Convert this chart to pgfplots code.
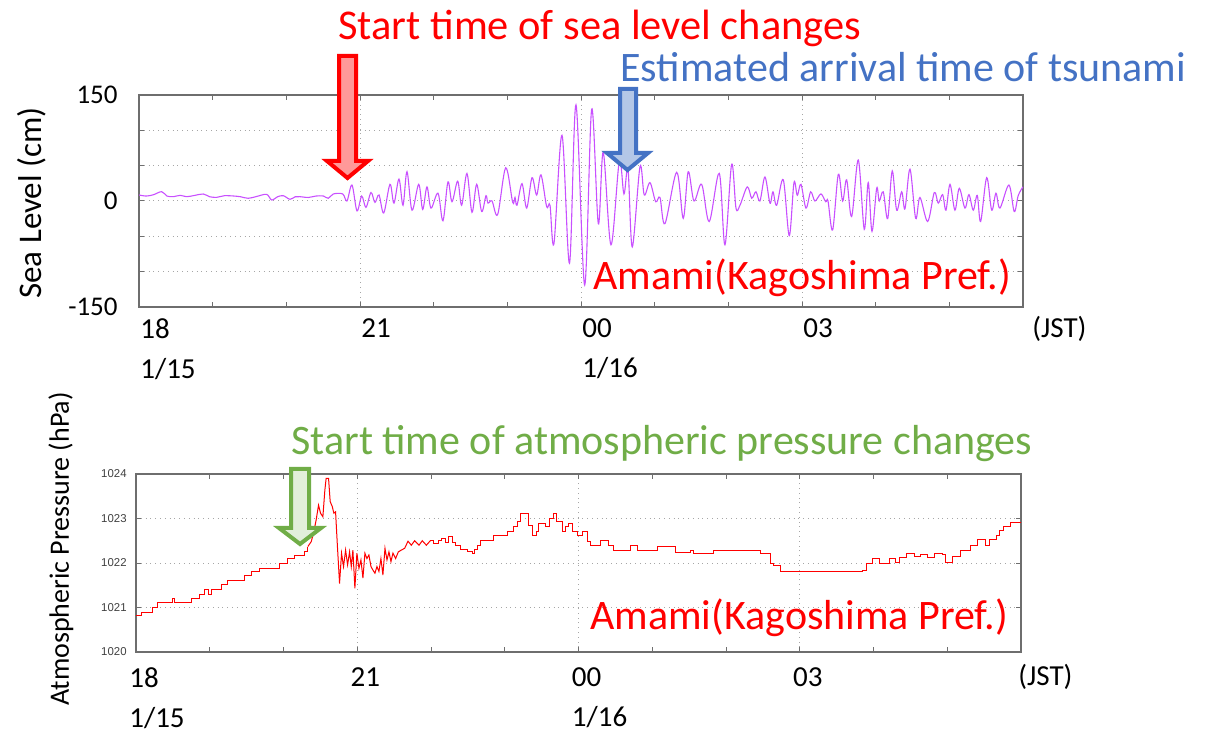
\documentclass[border=0pt]{standalone}
\usepackage{fontspec}
\setmainfont{Carlito}
\newfontfamily\tickfont{Liberation Sans}
\usepackage{pgfplots}
\pgfplotsset{compat=1.18}

\definecolor{sealine}{RGB}{200,80,255}
\definecolor{jred}{RGB}{255,0,0}
\definecolor{jredfill}{RGB}{255,153,153}
\definecolor{jblue}{RGB}{68,114,196}
\definecolor{jbluefill}{RGB}{180,199,231}
\definecolor{jgreen}{RGB}{112,173,71}
\definecolor{jgreenfill}{RGB}{226,239,218}
\definecolor{axgray}{RGB}{110,110,110}

% sea level at Amami, hours after 1/15 00:00 JST (cm)
\pgfplotstableread{
h y
18.000 8.5
18.100 7
18.200 9
18.308 13.2
18.380 7
18.466 6.1
18.560 8
18.647 6.1
18.760 8
18.873 9.9
18.960 6
19.055 5.2
19.160 7.5
19.280 7.1
19.380 6
19.484 3.8
19.600 6.5
19.733 9.4
19.801 1.4
19.880 6
19.959 7.5
20.050 2.4
20.120 6
20.185 6.1
20.300 5
20.400 7
20.502 7.1
20.570 3.8
20.637 9.9
20.765 10
20.823 0
20.891 22.6
20.959 -14
21.023 7
21.081 -9
21.149 12
21.203 -2
21.258 8.5
21.322 -17
21.407 23.6
21.461 -3
21.529 31
21.584 -6
21.638 41.5
21.706 -13
21.797 23.6
21.851 -12
21.909 20
21.964 -10
22.059 11
22.126 -28
22.194 27
22.249 -1
22.326 28
22.380 -6
22.452 39
22.520 -16
22.584 23.6
22.652 -15
22.710 7.5
22.737 -3
22.792 0
22.869 -19
22.978 47
23.073 -2
23.104 5
23.131 -6
23.199 24.5
23.263 -10
23.335 33
23.398 8.5
23.457 37
23.534 -8
23.579 -6
23.633 -60
23.742 93
23.844 -88
23.932 136
24.050 -119
24.145 130
24.235 -32
24.302 69
24.407 -62
24.520 56
24.583 10
24.638 45
24.696 -65
24.801 48.6
24.859 8.5
24.936 26
25.014 -1
25.072 5
25.140 -32
25.299 40.6
25.388 -24.5
25.456 41.5
25.534 0
25.638 23.6
25.741 -29
25.877 39
25.954 -62
26.045 52
26.104 -10
26.158 -6
26.257 20
26.317 4
26.375 13
26.429 0
26.497 34
26.565 -3
26.606 13
26.656 -6
26.746 30
26.827 -49
26.891 26
26.936 8
26.986 23.6
27.054 -10
27.118 13
27.176 0
27.257 10
27.321 -1
27.353 0
27.416 -41
27.493 37.7
27.552 0
27.606 30
27.674 -22
27.764 58
27.845 -40
27.899 26
27.950 -43
28.014 18
28.049 0
28.103 13
28.163 -25
28.225 42.5
28.285 -13
28.353 13
28.398 -11
28.466 45
28.543 -24.5
28.601 5
28.706 -29
28.796 12
28.850 -3
28.909 9
28.954 -13
29.009 23.6
29.076 -13
29.135 18
29.212 -10
29.266 9
29.325 -13
29.379 8
29.425 -29
29.507 33
29.575 -13
29.633 11
29.687 -10
29.809 22.6
29.881 -15
29.936 8
30.000 20
}\sealevel

% atmospheric pressure at Amami (hPa), slow part before the pressure wave
\pgfplotstableread{
h p
18.000 1020.82
18.081 1020.88
18.226 1021.00
18.294 1021.12
18.489 1021.21
18.516 1021.12
18.747 1021.21
18.860 1021.30
18.928 1021.41
18.986 1021.30
19.018 1021.41
19.154 1021.51
19.244 1021.60
19.471 1021.71
19.561 1021.81
19.674 1021.88
19.946 1021.99
20.059 1022.10
20.149 1022.16
20.285 1022.25
20.330 1022.37
}\pressa

% pressure wave and disturbed period
\pgfplotstableread{
h p
20.330 1022.37
20.376 1022.48
20.407 1022.67
20.443 1022.97
20.475 1023.30
20.502 1023.12
20.534 1023.04
20.561 1023.64
20.578 1023.90
20.611 1023.90
20.633 1023.38
20.661 1023.27
20.683 1023.12
20.706 1023.15
20.729 1022.44
20.760 1021.54
20.787 1022.22
20.814 1021.92
20.842 1022.29
20.869 1021.96
20.896 1022.25
20.919 1021.92
20.941 1022.29
20.968 1021.43
20.995 1022.22
21.023 1021.88
21.050 1022.07
21.077 1021.66
21.104 1022.22
21.131 1022.10
21.158 1022.18
21.186 1021.92
21.213 1021.84
21.240 1021.77
21.267 1021.92
21.294 1021.81
21.321 1022.10
21.348 1021.73
21.376 1022.33
21.403 1022.07
21.430 1022.25
21.457 1022.03
21.484 1022.22
21.520 1022.10
21.557 1022.25
21.597 1022.29
21.643 1022.33
21.688 1022.49
21.733 1022.40
21.778 1022.50
21.837 1022.40
21.882 1022.50
21.937 1022.40
21.991 1022.50
}\pressb

% afterwards
\pgfplotstableread{
h p
21.991 1022.50
22.036 1022.44
22.104 1022.50
22.149 1022.55
22.195 1022.46
22.240 1022.59
22.285 1022.46
22.330 1022.40
22.398 1022.31
22.489 1022.25
22.557 1022.22
22.588 1022.31
22.625 1022.40
22.670 1022.50
22.851 1022.61
23.032 1022.70
23.122 1022.82
23.177 1022.93
23.213 1023.12
23.281 1023.12
23.326 1022.85
23.371 1022.61
23.430 1022.70
23.462 1022.89
23.552 1022.82
23.611 1023.00
23.656 1023.12
23.701 1022.93
23.778 1022.70
23.824 1022.82
23.869 1022.89
23.914 1022.70
23.982 1022.61
24.050 1022.70
24.118 1022.48
24.163 1022.40
24.299 1022.50
24.412 1022.40
24.480 1022.29
24.593 1022.29
24.706 1022.40
24.796 1022.29
24.932 1022.29
25.068 1022.38
25.158 1022.38
25.317 1022.24
25.520 1022.27
25.566 1022.22
25.679 1022.22
25.837 1022.29
26.109 1022.29
26.335 1022.29
26.470 1022.22
26.607 1022.00
26.650 1021.95
26.742 1021.81
27.647 1021.81
27.851 1021.84
27.910 1021.99
27.986 1022.10
28.077 1021.99
28.213 1022.10
28.303 1022.01
28.348 1022.13
28.452 1022.22
28.552 1022.14
28.643 1022.20
28.733 1022.13
28.824 1022.22
28.937 1022.20
28.982 1022.01
29.072 1022.14
29.186 1022.29
29.321 1022.40
29.412 1022.53
29.525 1022.40
29.570 1022.52
29.661 1022.61
29.706 1022.74
29.765 1022.82
29.864 1022.91
30.000 1022.91
}\pressc

\pgfplotsset{
  tsu/.style={
    scale only axis, anchor=south west,
    xmin=18, xmax=30,
    xtick={18,21,24,27},
    minor xtick={19,20,22,23,25,26,28,29},
    xticklabels={{18\\1/15},21,{00\\1/16},03},
    axis line style={axgray, line width=0.6pt},
    every tick/.style={axgray, line width=0.5pt},
    major tick length=2.5pt, minor tick length=2.5pt,
    grid=major,
    major grid style={dotted, gray!70, line width=0.5pt},
    xticklabel style={font=\fontsize{14.5}{20}\selectfont, align=left,
      anchor=north west, inner sep=0pt},
  },
}

\begin{document}
\begin{tikzpicture}
\path[use as bounding box] (0,0) rectangle (605.5pt,-366pt);

\begin{axis}[tsu,
  at={(69.5pt,-153.5pt)}, width=442pt, height=106pt,
  ymin=-150, ymax=150,
  ytick={-150,-100,-50,0,50,100,150},
  yticklabels={-150,,,0,,,150},
  yticklabel style={font=\fontsize{13.5}{16}\selectfont, anchor=east,
    inner sep=0pt, xshift=-10.5pt},
  xticklabel style={xshift=0.5pt, yshift=-5.5pt},
]
\addplot[sealine, line width=0.55pt, smooth, tension=0.55] table[x=h, y=y] {\sealevel};
\end{axis}

\begin{axis}[tsu,
  at={(68pt,-326pt)}, width=442.5pt, height=89pt,
  ymin=1020, ymax=1024,
  ytick={1020,1021,1022,1023,1024},
  yticklabels={1020,1021,1022,1023,1024},
  yticklabel style={font=\tickfont\fontsize{5.7}{7}\selectfont, color=black!75,
    anchor=east, inner sep=0pt, xshift=-4.5pt},
  xticklabel style={xshift=-3.5pt, yshift=-7.5pt},
]
\addplot[jred, line width=0.5pt, const plot] table[x=h, y=p] {\pressa};
\addplot[jred, line width=0.5pt, sharp plot] table[x=h, y=p] {\pressb};
\addplot[jred, line width=0.5pt, const plot] table[x=h, y=p] {\pressc};
\end{axis}

\begin{scope}[x=0.5pt, y=-0.5pt]
  % axis titles and unit
  \node[rotate=90, font=\fontsize{16.5}{20}\selectfont] at (32,203) {Sea Level (cm)};
  \node[rotate=90, font=\fontsize{14}{18}\selectfont] at (61,549) {Atmospheric Pressure (hPa)};
  \node[anchor=north west, inner sep=0pt, font=\fontsize{14.5}{20}\selectfont] at (1032,316) {(JST)};
  \node[anchor=north west, inner sep=0pt, font=\fontsize{14.5}{20}\selectfont] at (1018,664) {(JST)};

  % annotations
  \node[anchor=base west, inner sep=0pt, text=jred, font=\fontsize{21.2}{25}\selectfont] at (338,40) {Start time of sea level changes};
  \node[anchor=base west, inner sep=0pt, text=jblue, font=\fontsize{21}{25}\selectfont] at (620,82) {Estimated arrival time of tsunami};
  \node[anchor=base west, inner sep=0pt, text=jred, font=\fontsize{21}{25}\selectfont] at (593,290) {Amami(Kagoshima Pref.)};
  \node[anchor=base west, inner sep=0pt, text=jgreen, font=\fontsize{21}{25}\selectfont] at (291,455) {Start time of atmospheric pressure changes};
  \node[anchor=base west, inner sep=0pt, text=jred, font=\fontsize{21}{25}\selectfont] at (590,630) {Amami(Kagoshima Pref.)};

  % block arrows
  \draw[jred, fill=jredfill, line width=2pt, line join=miter]
    (339,56) -- (356,56) -- (356,161) -- (368,161) -- (347.5,178) -- (327,161) -- (339,161) -- cycle;
  \draw[jblue, fill=jbluefill, line width=2pt, line join=miter]
    (620,89) -- (636,89) -- (636,153) -- (648,153) -- (627.5,170) -- (607,153) -- (620,153) -- cycle;
  \draw[jgreen, fill=jgreenfill, line width=2pt, line join=miter]
    (291,469) -- (309,469) -- (309,528) -- (321,528) -- (300,544) -- (279,528) -- (291,528) -- cycle;
\end{scope}
\end{tikzpicture}
\end{document}
